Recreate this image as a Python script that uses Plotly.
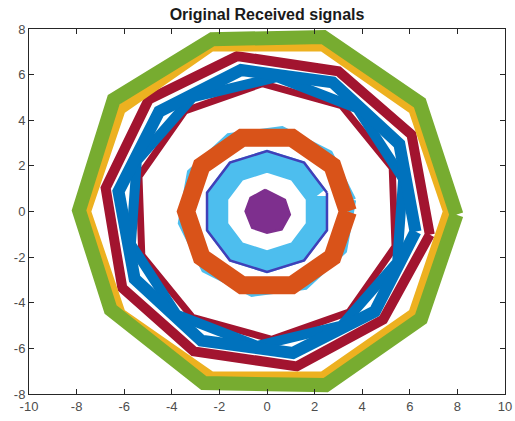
import plotly.graph_objects as go

# Ring vertices (x, y in data units)
green_x = [7.96, 6.42, 2.37, -2.30, -6.44, -7.90, -6.57, -2.66, 2.47, 6.47]
green_y = [-0.14, 4.76, 7.65, 7.55, 4.90, 0.05, -4.30, -7.52, -7.61, -4.70]

yellow_x = [7.60, 6.15, 2.35, -2.35, -6.15, -7.60, -6.15, -2.35, 2.35, 6.15]
yellow_y = [0.00, 4.47, 7.23, 7.23, 4.47, 0.00, -4.47, -7.23, -7.23, -4.47]

redA_x = [6.84, 6.07, 3.00, -1.26, -4.97, -6.78, -6.08, -3.08, 1.25, 4.88]
redA_y = [-1.01, 3.37, 6.15, 6.81, 4.91, 1.03, -3.35, -6.13, -6.79, -4.74]

redB_x = [5.26, 3.13, -0.20, -3.45, -5.38, -5.26, -3.13, 0.20, 3.45, 5.38]
redB_y = [1.92, 4.64, 5.60, 4.41, 1.54, -1.92, -4.64, -5.60, -4.41, -1.54]

blueA_x = [6.24, 5.56, 2.76, -1.09, -4.53, -6.24, -5.56, -2.76, 1.09, 4.53]
blueA_y = [-0.88, 2.96, 5.66, 6.20, 4.38, 0.88, -2.96, -5.66, -6.20, -4.38]

blueB_x = [5.72, 3.79, 0.41, -3.13, -5.47, -5.72, -3.79, -0.41, 3.13, 5.47]
blueB_y = [1.43, 4.52, 5.89, 5.00, 2.21, -1.43, -4.52, -5.89, -5.00, -2.21]

orange_x = [3.40, 2.75, 1.05, -1.05, -2.75, -3.40, -2.75, -1.05, 1.05, 2.75]
orange_y = [0.00, 2.00, 3.23, 3.23, 2.00, 0.00, -2.00, -3.23, -3.23, -2.00]

lblue_out_x = [3.62, 2.64, 0.63, -1.61, -3.24, -3.62, -2.64, -0.63, 1.61, 3.24]
lblue_out_y = [0.51, 2.55, 3.61, 3.30, 1.72, -0.51, -2.55, -3.61, -3.30, -1.72]

lblue_in_x = [2.09, 1.29, 0.00, -1.29, -2.09, -2.09, -1.29, 0.00, 1.29, 2.09]
lblue_in_y = [0.68, 1.78, 2.20, 1.78, 0.68, -0.68, -1.78, -2.20, -1.78, -0.68]

indigo_x = [2.52, 1.56, 0.00, -1.56, -2.52, -2.52, -1.56, 0.00, 1.56, 2.52]
indigo_y = [0.82, 2.14, 2.65, 2.14, 0.82, -0.82, -2.14, -2.65, -2.14, -0.82]

purple_x = [-0.08, 0.76, 0.97, 0.62, 0.00, -0.63, -0.91, -0.70]
purple_y = [0.96, 0.52, -0.14, -0.79, -0.94, -0.72, 0.01, 0.60]

x_ticks = [-10, -8, -6, -4, -2, 0, 2, 4, 6, 8, 10]
x_labels = ["-10", "-8", "-6", "-4", "-2", "0", "2", "4", "6", "8", "10"]
y_ticks = [-8, -6, -4, -2, 0, 2, 4, 6, 8]
y_labels = ["-8", "-6", "-4", "-2", "0", "2", "4", "6", "8"]


def closed(v):
    return list(v) + [v[0]]


fig = go.Figure()


def ring(xs, ys, color, width):
    fig.add_trace(go.Scatter(x=closed(xs), y=closed(ys), mode="lines",
                             line=dict(color=color, width=width),
                             hoverinfo="skip", showlegend=False))


ring(lblue_out_x, lblue_out_y, "#4DBEEE", 6)
ring(orange_x, orange_y, "#D95319", 18)
ring(lblue_in_x, lblue_in_y, "#4DBEEE", 22)
ring(indigo_x, indigo_y, "#4040B8", 2.5)
fig.add_trace(go.Scatter(x=closed(purple_x), y=closed(purple_y), mode="lines",
                         fill="toself", fillcolor="#7E2F8E",
                         line=dict(color="#7E2F8E", width=2),
                         hoverinfo="skip", showlegend=False))
ring(redB_x, redB_y, "#A2142F", 7)
ring(redA_x, redA_y, "#A2142F", 10)
ring(blueB_x, blueB_y, "#0072BD", 10)
ring(blueA_x, blueA_y, "#0072BD", 12)
ring(yellow_x, yellow_y, "#EDB120", 10)
ring(green_x, green_y, "#77AC30", 14)

tick_font = dict(family="Liberation Sans, Arial, sans-serif", size=13,
                 color="#4d4d4d")
axis_common = dict(showgrid=False, zeroline=False, showline=True,
                   linecolor="#262626", linewidth=1, mirror="ticks",
                   ticks="inside", ticklen=5, tickcolor="#262626",
                   automargin=False, tickfont=tick_font)

fig.update_xaxes(range=[-10, 10], tickvals=x_ticks, ticktext=x_labels,
                 **axis_common)
fig.update_yaxes(range=[-8, 8], tickvals=y_ticks, ticktext=y_labels,
                 **axis_common)

fig.update_layout(
    width=515, height=421,
    margin=dict(l=29, r=10, t=29, b=27),
    paper_bgcolor="white", plot_bgcolor="white",
    title=dict(text="<b>Original Received signals</b>",
               x=0.5, xref="paper", xanchor="center",
               y=1 - 14 / 421, yref="container", yanchor="middle",
               font=dict(family="Liberation Sans, Arial, sans-serif",
                         size=16, color="#1a1a1a")),
)

fig.write_html("out.html",
               config={"displayModeBar": False, "staticPlot": True},
               post_script="document.body.style.margin='0';"
                           "document.body.style.overflow='hidden';")
